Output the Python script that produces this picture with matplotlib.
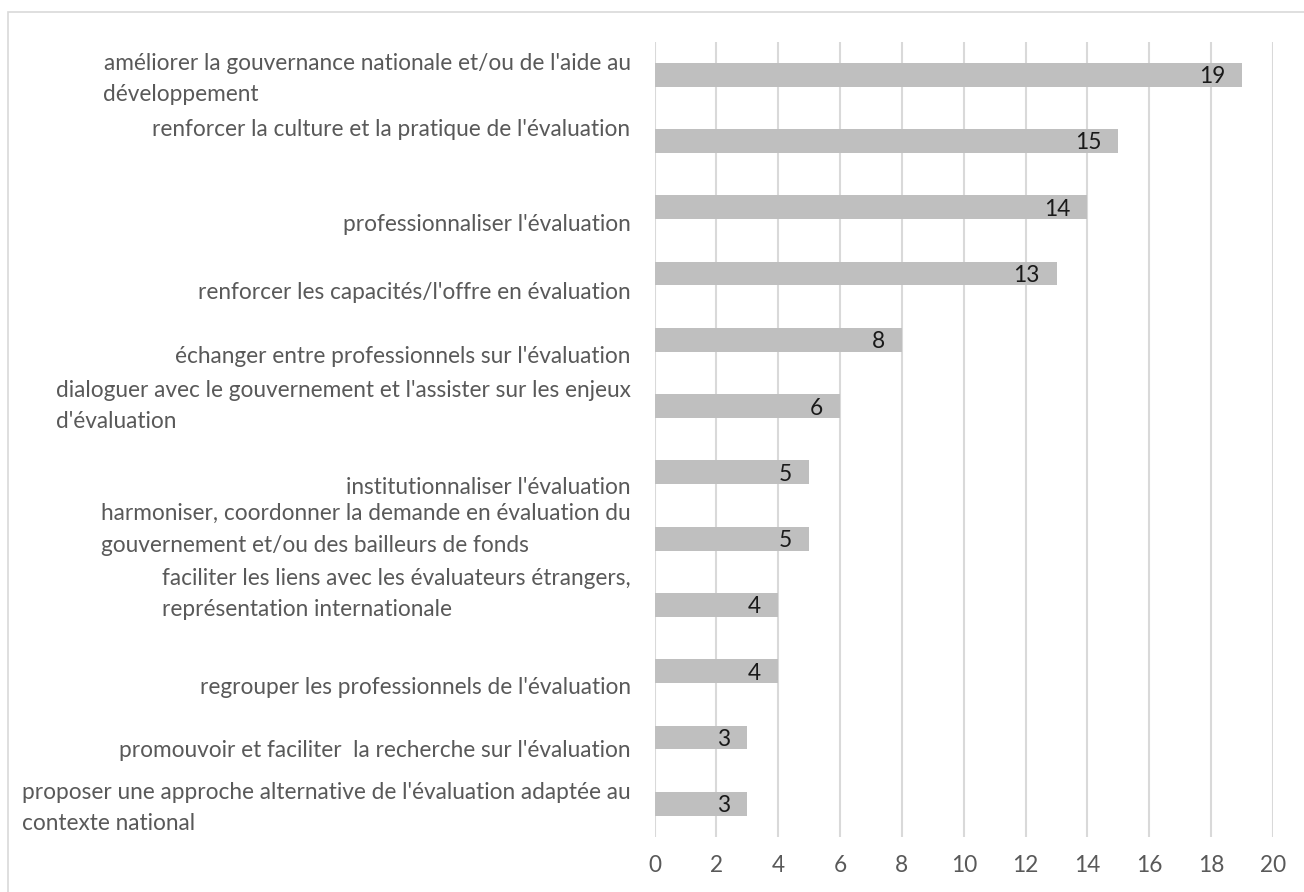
import numpy as np
import matplotlib.pyplot as plt
from matplotlib.patches import Rectangle

plt.rcParams['font.family'] = ['Lato', 'DejaVu Sans']

# DATA
categories = [
    "améliorer la gouvernance nationale et/ou de l'aide au\ndéveloppement",
    "renforcer la culture et la pratique de l'évaluation",
    "professionnaliser l'évaluation",
    "renforcer les capacités/l'offre en évaluation",
    "échanger entre professionnels sur l'évaluation",
    "dialoguer avec le gouvernement et l'assister sur les enjeux\nd'évaluation",
    "institutionnaliser l'évaluation",
    "harmoniser, coordonner la demande en évaluation du\ngouvernement et/ou des bailleurs de fonds",
    "faciliter les liens avec les évaluateurs étrangers,\nreprésentation internationale",
    "regrouper les professionnels de l'évaluation",
    "promouvoir et faciliter  la recherche sur l'évaluation",
    "proposer une approche alternative de l'évaluation adaptée au\ncontexte national",
]
values = [19, 15, 14, 13, 8, 6, 5, 5, 4, 4, 3, 3]
xticks = list(range(0, 21, 2))

# label vertical shifts (Excel places the category text a bit off the bars)
label_shift = [0.06, -0.17, 0.26, 0.29, 0.25, 0.0, 0.23, -0.14, -0.17, 0.24, 0.2, 0.06]

W, H = 1304, 892
fig = plt.figure(figsize=(W / 100, H / 100), dpi=100)
ax = fig.add_axes([654.5 / W, 1 - 837 / H, (1273 - 654.5) / W, (837 - 41.5) / H])

# chart area border (left & top visible)
fig.add_artist(Rectangle((7.5 / W, -0.2), 1.2, 1.2 - 12 / H, transform=fig.transFigure,
                         fill=False, ec='#D9D9D9', lw=1.2))

y = np.arange(len(values))
ax.barh(y, values, height=0.36, color='#BFBFBF', zorder=3)

for i, v in enumerate(values):
    ax.annotate(str(v), xy=(v, i), xytext=(-17, 0), textcoords='offset pixels',
                ha='right', va='center_baseline', fontsize=16.3, color='#1a1a1a', zorder=4)

for i, lab in enumerate(categories):
    ax.annotate(lab, xy=(0, i + label_shift[i]), xycoords=ax.get_yaxis_transform(),
                xytext=(-24, 0), textcoords='offset pixels', ha='right', va='center',
                multialignment='left', fontsize=16.3, color='#595959', linespacing=1.6)

ax.set_xlim(0, 20)
ax.set_ylim(len(values) - 0.5, -0.5)
ax.set_xticks(xticks)
ax.set_yticks([])
ax.tick_params(axis='x', length=0, pad=13, labelsize=16.3, labelcolor='#595959')
ax.grid(axis='x', color='#D9D9D9', lw=1.5, zorder=0)
for s in ax.spines.values():
    s.set_visible(False)

fig.savefig('out.png', dpi=100)
